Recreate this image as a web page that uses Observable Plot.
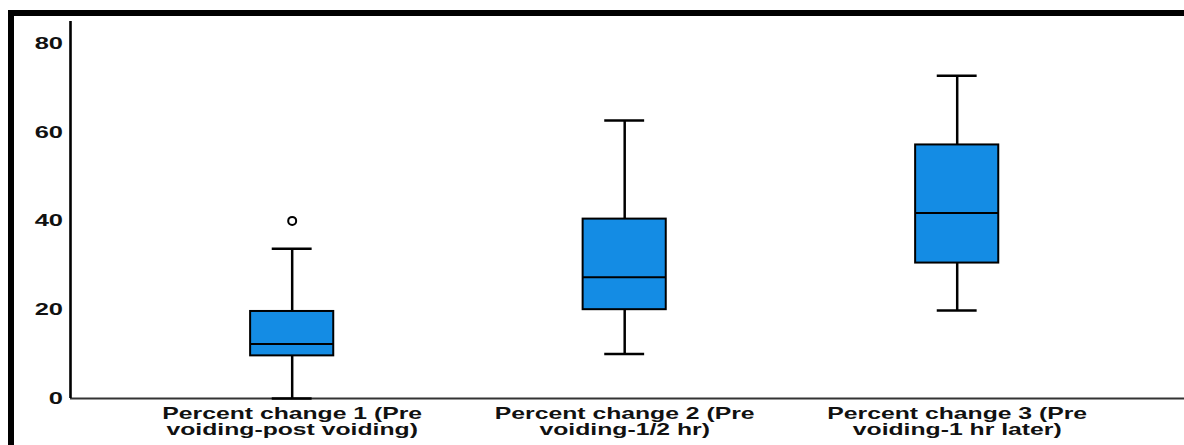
<!DOCTYPE html>
<html><head><meta charset="utf-8">
<script src="https://cdn.jsdelivr.net/npm/d3@7"></script>
<script src="https://cdn.jsdelivr.net/npm/@observablehq/plot@0.6"></script>
<style>
html,body{margin:0;padding:0;background:#fff;}
#wrap{position:relative;width:1184px;height:445px;overflow:hidden;background:#fff;}
#frame{position:absolute;left:8px;top:10px;right:0;bottom:0;border-top:6px solid #000;border-left:6px solid #000;pointer-events:none;}
</style></head><body>
<div id="wrap"><div id="chart"></div><div id="frame"></div></div>
<script>
// ---- data ----
const categories = [
  "Percent change 1 (Pre\nvoiding-post voiding)",
  "Percent change 2 (Pre\nvoiding-1/2 hr)",
  "Percent change 3 (Pre\nvoiding-1 hr later)"
];
const whiskerLow  = [0, 10.0, 19.8];
const q1          = [9.6, 20.0, 30.5];
const median      = [12.3, 27.3, 41.8];
const q3          = [19.6, 40.4, 57.1];
const whiskerHigh = [33.7, 62.6, 72.7];
const outlierCategory = [0];
const outlierValue    = [40.0];
const yTicks = [0, 20, 40, 60, 80];

// ---- build table ----
const boxes = categories.map((c, i) => ({
  pos: i + 1, label: c,
  lo: whiskerLow[i], q1: q1[i], med: median[i], q3: q3[i], hi: whiskerHigh[i]
}));
const outliers = outlierCategory.map((c, i) => ({pos: c + 1, value: outlierValue[i]}));

const xDomain = [0.3333, 3.6836];
const yDomain = [0, 84.9];
const boxHalf = 0.125, capHalf = 0.06;
const blue = "#148ce4";
const font = "Liberation Sans, Arial, Helvetica, sans-serif";

const chart = Plot.plot({
  width: 1184, height: 445,
  marginLeft: 70, marginRight: 0, marginTop: 21, marginBottom: 47,
  style: {background: "transparent", fontFamily: font, overflow: "visible"},
  x: {type: "linear", domain: xDomain, axis: null},
  y: {domain: yDomain, axis: null},
  marks: [
    Plot.ruleY([0], {stroke: "#333", strokeWidth: 2}),
    Plot.ruleX([xDomain[0]], {stroke: "#000", strokeWidth: 2.6}),
    Plot.ruleX(boxes, {x: "pos", y1: "lo", y2: "hi", stroke: "#000", strokeWidth: 2.5}),
    Plot.rectY(boxes, {x1: d => d.pos - boxHalf, x2: d => d.pos + boxHalf, y1: "q1", y2: "q3", fill: blue, stroke: "#000", strokeWidth: 2}),
    Plot.ruleY(boxes, {x1: d => d.pos - boxHalf, x2: d => d.pos + boxHalf, y: "med", stroke: "#000", strokeWidth: 2}),
    Plot.ruleY(boxes, {x1: d => d.pos - capHalf, x2: d => d.pos + capHalf, y: "hi", stroke: "#000", strokeWidth: 2.5}),
    Plot.ruleY(boxes, {x1: d => d.pos - capHalf, x2: d => d.pos + capHalf, y: "lo", stroke: "#000", strokeWidth: 2.5}),
    Plot.dot(outliers, {x: "pos", y: "value", r: 4, stroke: "#000", strokeWidth: 2, fill: "#fff"}),
    Plot.text(yTicks, {x: () => xDomain[0], y: d => d, text: d => String(d), textAnchor: "end", dx: -7.5,
      fontSize: 17, fontWeight: "bold", fill: "#111", fontFamily: font}),
    Plot.text(boxes, {x: "pos", y: () => 0, text: "label", lineAnchor: "top", dy: 8.5,
      fontSize: 16.5, fontWeight: "bold", fill: "#111", fontFamily: font, lineHeight: 1})
  ]
});
document.getElementById("chart").appendChild(chart);

// horizontally stretch the text glyphs as in the reference raster
const sx = 1.5;
d3.select(chart).selectAll("text").each(function() {
  const t = this.getAttribute("transform");
  if (t && t.includes("translate")) {
    this.setAttribute("transform", t + ` scale(${sx},1)`);
  } else {
    const x = +this.getAttribute("x") || 0, y = +this.getAttribute("y") || 0;
    this.removeAttribute("x"); this.removeAttribute("y");
    this.setAttribute("transform", `translate(${x},${y}) scale(${sx},1)` + (t ? " " + t : ""));
  }
});
</script>
</body></html>
